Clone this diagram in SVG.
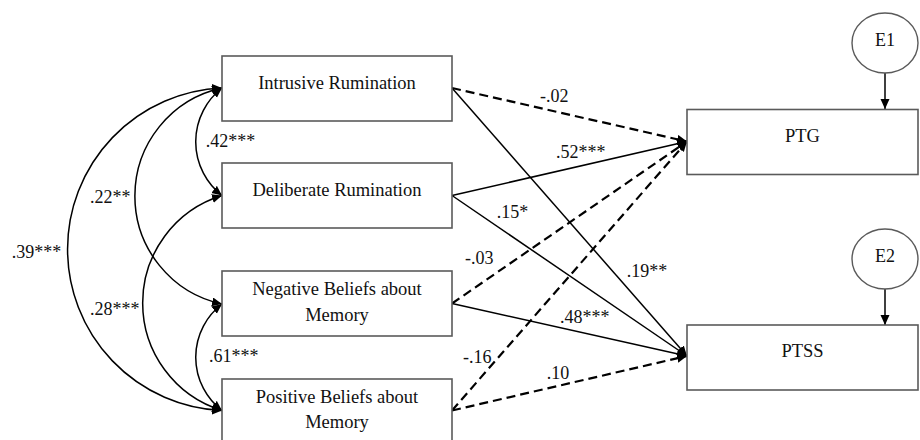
<svg xmlns="http://www.w3.org/2000/svg" width="920" height="440" viewBox="0 0 920 440">
<style>
.box{fill:#fff;stroke:#5a5a5a;stroke-width:1.6}
.circ{fill:#fff;stroke:#5a5a5a;stroke-width:1.4}
.t{font-family:"Liberation Serif","Times New Roman",serif;font-size:18.5px;fill:#111;text-anchor:middle}
.lbl{font-family:"Liberation Serif","Times New Roman",serif;font-size:18px;fill:#111}
.solid{fill:none;stroke:#000;stroke-width:1.5;marker-end:url(#ah)}
.dash{fill:none;stroke:#000;stroke-width:2.2;stroke-dasharray:9 5;marker-end:url(#ah)}
.cov{fill:none;stroke:#000;stroke-width:1.5;marker-start:url(#ah);marker-end:url(#ah)}
</style>
<defs>
<marker id="ah" markerUnits="userSpaceOnUse" markerWidth="11" markerHeight="10" refX="10" refY="4.5" orient="auto-start-reverse" viewBox="0 0 11 10">
<path d="M0,0 L10,4.5 L0,9 z" fill="#000" stroke="none"/>
</marker>
</defs>
<rect width="920" height="440" fill="#fff"/>
<g id="connectors">
<path class="dash" d="M452,88 L687,141.5"/>
<path class="solid" d="M452,88 L687,356"/>
<path class="solid" d="M452,195.5 L687,141.5"/>
<path class="solid" d="M452,195.5 L687,356"/>
<path class="dash" d="M452,303.5 L687,141.5"/>
<path class="solid" d="M452,303.5 L687,356"/>
<path class="dash" d="M452,410.5 L687,141.5"/>
<path class="dash" d="M452,410.5 L687,356"/>
<path class="cov" d="M222,88 A68.1,68.1 0 0 0 222,195.5"/>
<path class="cov" d="M222,88 A110.5,110.5 0 0 0 222,304"/>
<path class="cov" d="M222,195.5 A112.5,112.5 0 0 0 222,410.5"/>
<path class="cov" d="M222,88 A161.4,161.4 0 0 0 222,410.5"/>
<path class="cov" d="M222,304 A67.1,67.1 0 0 0 222,410.5"/>
<path class="solid" d="M885,73 L885,109"/>
<path class="solid" d="M885,289 L885,325"/>
<text class="lbl" x="205.7" y="147.3">.42***</text>
<text class="lbl" x="90" y="203">.22**</text>
<text class="lbl" x="90" y="315">.28***</text>
<text class="lbl" x="11.7" y="258.3">.39***</text>
<text class="lbl" x="209" y="361.7">.61***</text>
<text class="lbl" x="540" y="101.7">-.02</text>
<text class="lbl" x="556" y="158.3">.52***</text>
<text class="lbl" x="496.7" y="218.3">.15*</text>
<text class="lbl" x="626.7" y="276.7">.19**</text>
<text class="lbl" x="465" y="264.3">-.03</text>
<text class="lbl" x="560" y="322.7">.48***</text>
<text class="lbl" x="463" y="362.7">-.16</text>
<text class="lbl" x="546.7" y="379.3">.10</text>
</g>
<g id="intrusive">
<rect class="box" x="222" y="56" width="230" height="65"/>
<text class="t" x="337" y="88.5">Intrusive Rumination</text>
</g>
<g id="deliberate">
<rect class="box" x="222" y="163" width="230" height="65"/>
<text class="t" x="337" y="195.7">Deliberate Rumination</text>
</g>
<g id="negative">
<rect class="box" x="222" y="271" width="230" height="65"/>
<text class="t" x="337" y="295">Negative Beliefs about</text>
<text class="t" x="337" y="320.7">Memory</text>
</g>
<g id="positive">
<rect class="box" x="222" y="379" width="230" height="65"/>
<text class="t" x="337" y="403.3">Positive Beliefs about</text>
<text class="t" x="337" y="428.3">Memory</text>
</g>
<g id="ptg">
<rect class="box" x="687" y="109.5" width="231" height="65"/>
<text class="t" x="802.5" y="141.7">PTG</text>
</g>
<g id="ptss">
<rect class="box" x="687" y="325" width="231" height="65"/>
<text class="t" x="802.5" y="356.7">PTSS</text>
</g>
<g id="e1">
<ellipse class="circ" cx="885" cy="43" rx="33" ry="30"/>
<text class="t" x="885" y="46" style="font-size:18px">E1</text>
</g>
<g id="e2">
<ellipse class="circ" cx="885" cy="259" rx="33" ry="30"/>
<text class="t" x="885" y="262" style="font-size:18px">E2</text>
</g>
</svg>
